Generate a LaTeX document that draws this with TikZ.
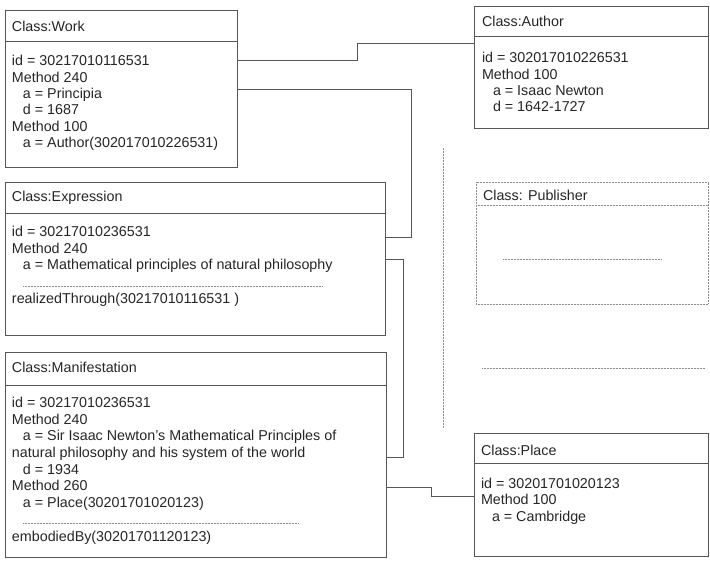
\documentclass[tikz,border=0pt]{standalone}
\usepackage{fontspec}
\setmainfont{Liberation Sans}
\definecolor{linegray}{HTML}{555555}
\definecolor{textgray}{HTML}{262626}
\definecolor{dotgray}{HTML}{8C8C8C}
\begin{document}
\begin{tikzpicture}[x=1pt,y=-1pt,
  box/.style={draw=linegray, line width=0.9pt, anchor=north west, inner sep=0pt, outer sep=0pt},
  dbox/.style={draw=dotgray, line width=0.6pt, dash pattern=on 0.5pt off 1pt, anchor=north west, inner sep=0pt, outer sep=0pt},
  txt/.style={anchor=base west, inner sep=0pt, outer sep=0pt, text=textgray, font=\fontsize{14.3}{17}\selectfont},
  conn/.style={draw=linegray, line width=0.9pt},
  divline/.style={draw=linegray, line width=0.9pt},
  dots/.style={draw=dotgray, line width=0.6pt, dash pattern=on 0.5pt off 1pt}]
\useasboundingbox[fill=white] (0,0) rectangle (710,561);

% boxes
\node[box, minimum width=232pt, minimum height=157pt] (work) at (5,10) {};
\node[box, minimum width=234pt, minimum height=122pt] (author) at (474,6) {};
\node[box, minimum width=380pt, minimum height=153pt] (expr) at (5,182) {};
\node[dbox, minimum width=232pt, minimum height=122pt] (pub) at (476,182) {};
\node[box, minimum width=381pt, minimum height=205pt] (manif) at (5,352) {};
\node[box, minimum width=234pt, minimum height=123pt] (place) at (474,433) {};

% header dividers
\draw[divline] (work.west |- 0,41) -- (work.east |- 0,41);
\draw[divline] (author.west |- 0,36) -- (author.east |- 0,36);
\draw[divline] (expr.west |- 0,213) -- (expr.east |- 0,213);
\draw[dots] (pub.west |- 0,205) -- (pub.east |- 0,205);
\draw[divline] (manif.west |- 0,385) -- (manif.east |- 0,385);
\draw[divline] (place.west |- 0,463) -- (place.east |- 0,463);

% Work
\node[txt] (wt) at (12,31.5) {Class:Work};
\node[txt] (w1) at (12,66) {id = 30217010116531};
\node[txt] (w2) at (12,82.3) {Method 240};
\node[txt] (w3) at (23,98.6) {a = Principia};
\node[txt] (w4) at (23,114.9) {d = 1687};
\node[txt] (w5) at (12,131.2) {Method 100};
\node[txt] (w6) at (23,147.5) {a = Author(302017010226531)};

% Author
\node[txt] (at) at (482,27) {Class:Author};
\node[txt] (a1) at (482,63) {id = 302017010226531};
\node[txt] (a2) at (482,79.3) {Method 100};
\node[txt] (a3) at (493,95.6) {a = Isaac Newton};
\node[txt] (a4) at (493,111.9) {d = 1642-1727};

% Expression
\node[txt] (et) at (12,202) {Class:Expression};
\node[txt] (e1) at (12,237) {id = 30217010236531};
\node[txt] (e2) at (12,253.3) {Method 240};
\node[txt] (e3) at (23,269.6) {a = Mathematical principles of natural philosophy};
\draw[dots] (23,286) -- (323,286);
\node[txt] (e4) at (12,304) {realizedThrough(30217010116531 )};

% Publisher
\node[txt] (pt) at (483,201) {Class: Publisher};
\draw[dots] (503,259) -- (662,259);

% Manifestation
\node[txt] (mt) at (12,373) {Class:Manifestation};
\node[txt] (m1) at (12,408) {id = 30217010236531};
\node[txt] (m2) at (12,424.5) {Method 240};
\node[txt] (m3) at (23,441) {a = Sir Isaac Newton’s Mathematical Principles of};
\node[txt] (m4) at (12,457.5) {natural philosophy and his system of the world};
\node[txt] (m5) at (23,474) {d = 1934};
\node[txt] (m6) at (12,490.5) {Method 260};
\node[txt] (m7) at (23,507) {a = Place(30201701020123)};
\draw[dots] (23,523) -- (298,523);
\node[txt] (m8) at (12,541) {embodiedBy(30201701120123)};

% Place
\node[txt] (plt) at (481,455) {Class:Place};
\node[txt] (pl1) at (481,488) {id = 30201701020123};
\node[txt] (pl2) at (481,504.5) {Method 100};
\node[txt] (pl3) at (492,521) {a = Cambridge};

% free dotted lines
\draw[dots] (443,148) -- (443,428);
\draw[dots] (482,368) -- (705,368);

% connectors
\draw[conn] (work.east |- 0,60) -| (357,43) -- (author.west |- 0,43);
\draw[conn] (work.east |- 0,89) -| (411,237) -- (expr.east |- 0,237);
\draw[conn] (expr.east |- 0,259) -| (403,457) -- (manif.east |- 0,457);
\draw[conn] (manif.east |- 0,487) -| (431,496) -- (place.west |- 0,496);
\end{tikzpicture}
\end{document}
